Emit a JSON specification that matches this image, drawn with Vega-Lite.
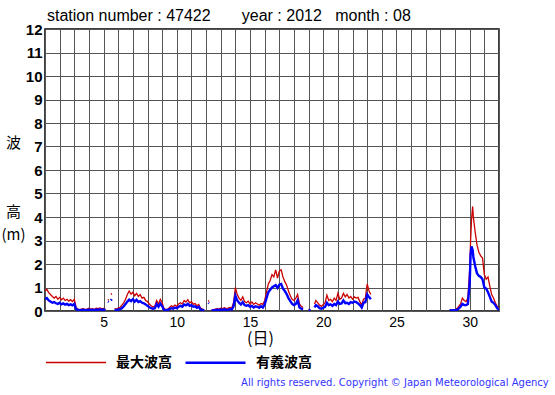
{
  "$schema": "https://vega.github.io/schema/vega-lite/v6.json",
  "autosize": "none",
  "width": 454,
  "height": 282,
  "padding": {"left": 45, "top": 29, "right": 56, "bottom": 84},
  "background": "white",
  "title": {
    "text": "station number : 47422\u00a0\u00a0\u00a0\u00a0\u00a0\u00a0\u00a0year : 2012\u00a0\u00a0\u00a0month : 08",
    "anchor": "start", "frame": "group", "font": "Liberation Sans", "fontSize": 16,
    "fontWeight": "normal", "color": "black", "offset": 2, "dx": 2, "dy": 17, "baseline": "alphabetic"
  },
  "config": {
    "view": {"stroke": "black", "strokeWidth": 1.5},
    "axis": {"gridColor": "#555555", "gridOpacity": 1, "gridWidth": 1, "domain": false, "ticks": false, "labelColor": "black", "titleColor": "black"}
  },
  "data": {"values": [
    {"d":1.0,"max":0.85,"sig":0.5},{"d":1.125,"max":0.92,"sig":0.55},{"d":1.25,"max":0.78,"sig":0.45},{"d":1.375,"max":0.7,"sig":0.4},
    {"d":1.5,"max":0.62,"sig":0.35},{"d":1.625,"max":0.55,"sig":0.38},{"d":1.75,"max":0.62,"sig":0.33},{"d":1.875,"max":0.5,"sig":0.3},
    {"d":2.0,"max":0.58,"sig":0.35},{"d":2.125,"max":0.48,"sig":0.28},{"d":2.25,"max":0.55,"sig":0.32},{"d":2.375,"max":0.45,"sig":0.27},
    {"d":2.5,"max":0.5,"sig":0.3},{"d":2.625,"max":0.42,"sig":0.25},{"d":2.75,"max":0.48,"sig":0.28},{"d":2.875,"max":0.4,"sig":0.24},
    {"d":3.0,"max":0.5,"sig":0.3},{"d":3.125,"max":0.15,"sig":0.08},{"d":3.25,"max":0.08,"sig":0.04},{"d":3.375,"max":0.06,"sig":0.03},
    {"d":3.5,"max":0.08,"sig":0.04},{"d":3.625,"max":0.1,"sig":0.05},{"d":3.75,"max":0.06,"sig":0.03},{"d":3.875,"max":0.08,"sig":0.04},
    {"d":4.0,"max":0.12,"sig":0.06},{"d":4.125,"max":0.08,"sig":0.04},{"d":4.25,"max":0.1,"sig":0.05},{"d":4.375,"max":0.07,"sig":0.03},
    {"d":4.5,"max":0.12,"sig":0.06},{"d":4.625,"max":0.1,"sig":0.05},{"d":4.75,"max":0.13,"sig":0.07},{"d":4.875,"max":0.09,"sig":0.05},
    {"d":5.0,"max":0.11,"sig":0.06},{"d":5.125,"max":0.07,"sig":0.03},{"d":5.25,"max":null,"sig":null},
    {"d":5.3,"max":0.5,"sig":0.4},{"d":5.35,"max":0.45,"sig":0.38},{"d":5.4,"max":null,"sig":null},
    {"d":5.5,"max":0.75,"sig":0.45},{"d":5.56,"max":0.7,"sig":0.5},{"d":5.62,"max":null,"sig":null},
    {"d":5.75,"max":0.1,"sig":0.05},{"d":5.875,"max":0.08,"sig":0.04},{"d":6.0,"max":0.12,"sig":0.06},{"d":6.125,"max":0.15,"sig":0.08},
    {"d":6.25,"max":0.25,"sig":0.12},{"d":6.375,"max":0.35,"sig":0.2},{"d":6.5,"max":0.5,"sig":0.3},{"d":6.625,"max":0.7,"sig":0.4},
    {"d":6.75,"max":0.85,"sig":0.48},{"d":6.875,"max":0.72,"sig":0.42},{"d":7.0,"max":0.8,"sig":0.5},{"d":7.125,"max":0.65,"sig":0.4},
    {"d":7.25,"max":0.75,"sig":0.48},{"d":7.375,"max":0.62,"sig":0.38},{"d":7.5,"max":0.7,"sig":0.42},{"d":7.625,"max":0.55,"sig":0.35},
    {"d":7.75,"max":0.58,"sig":0.33},{"d":7.875,"max":0.45,"sig":0.28},{"d":8.0,"max":0.4,"sig":0.22},{"d":8.125,"max":0.3,"sig":0.16},
    {"d":8.25,"max":0.22,"sig":0.12},{"d":8.375,"max":0.18,"sig":0.1},{"d":8.5,"max":0.2,"sig":0.12},{"d":8.625,"max":0.45,"sig":0.3},
    {"d":8.75,"max":0.3,"sig":0.18},{"d":8.875,"max":0.5,"sig":0.32},{"d":9.0,"max":0.35,"sig":0.2},{"d":9.125,"max":0.1,"sig":0.05},
    {"d":9.25,"max":0.06,"sig":0.03},{"d":9.375,"max":0.08,"sig":0.04},{"d":9.5,"max":0.15,"sig":0.08},{"d":9.625,"max":0.22,"sig":0.12},
    {"d":9.75,"max":0.18,"sig":0.1},{"d":9.875,"max":0.25,"sig":0.14},{"d":10.0,"max":0.2,"sig":0.12},{"d":10.125,"max":0.3,"sig":0.18},
    {"d":10.25,"max":0.35,"sig":0.22},{"d":10.375,"max":0.3,"sig":0.18},{"d":10.5,"max":0.45,"sig":0.28},{"d":10.625,"max":0.38,"sig":0.24},
    {"d":10.75,"max":0.48,"sig":0.3},{"d":10.875,"max":0.35,"sig":0.22},{"d":11.0,"max":0.4,"sig":0.25},{"d":11.125,"max":0.28,"sig":0.18},
    {"d":11.25,"max":0.32,"sig":0.2},{"d":11.375,"max":0.22,"sig":0.14},{"d":11.5,"max":0.28,"sig":0.18},{"d":11.625,"max":0.12,"sig":0.06},
    {"d":11.75,"max":0.08,"sig":0.04},{"d":11.875,"max":0.05,"sig":0.03},{"d":12.0,"max":null,"sig":null},
    {"d":12.15,"max":0.45,"sig":0.35},{"d":12.2,"max":0.4,"sig":0.32},{"d":12.25,"max":null,"sig":null},
    {"d":12.375,"max":0.06,"sig":0.03},{"d":12.5,"max":0.05,"sig":0.02},{"d":12.625,"max":0.08,"sig":0.04},{"d":12.75,"max":0.1,"sig":0.05},
    {"d":12.875,"max":0.08,"sig":0.04},{"d":13.0,"max":0.12,"sig":0.06},{"d":13.125,"max":0.1,"sig":0.05},{"d":13.25,"max":0.14,"sig":0.07},
    {"d":13.375,"max":0.1,"sig":0.05},{"d":13.5,"max":0.12,"sig":0.06},{"d":13.625,"max":0.15,"sig":0.08},{"d":13.75,"max":0.12,"sig":0.06},
    {"d":13.875,"max":0.35,"sig":0.2},{"d":14.0,"max":1.0,"sig":0.65},{"d":14.125,"max":0.7,"sig":0.45},{"d":14.25,"max":0.55,"sig":0.35},
    {"d":14.375,"max":0.45,"sig":0.28},{"d":14.5,"max":0.6,"sig":0.38},{"d":14.625,"max":0.4,"sig":0.25},{"d":14.75,"max":0.35,"sig":0.22},
    {"d":14.875,"max":0.42,"sig":0.25},{"d":15.0,"max":0.3,"sig":0.18},{"d":15.125,"max":0.38,"sig":0.22},{"d":15.25,"max":0.28,"sig":0.15},
    {"d":15.375,"max":0.35,"sig":0.2},{"d":15.5,"max":0.3,"sig":0.18},{"d":15.625,"max":0.25,"sig":0.14},{"d":15.75,"max":0.32,"sig":0.2},
    {"d":15.875,"max":0.28,"sig":0.15},{"d":16.0,"max":0.45,"sig":0.28},{"d":16.125,"max":0.8,"sig":0.55},{"d":16.25,"max":1.15,"sig":0.8},
    {"d":16.375,"max":1.3,"sig":0.9},{"d":16.5,"max":1.55,"sig":1.0},{"d":16.625,"max":1.45,"sig":1.05},{"d":16.75,"max":1.75,"sig":1.1},
    {"d":16.875,"max":1.4,"sig":0.98},{"d":17.0,"max":1.7,"sig":1.12},{"d":17.125,"max":1.75,"sig":1.15},{"d":17.25,"max":1.45,"sig":0.95},
    {"d":17.375,"max":1.25,"sig":0.85},{"d":17.5,"max":1.1,"sig":0.72},{"d":17.625,"max":0.85,"sig":0.55},{"d":17.75,"max":0.65,"sig":0.42},
    {"d":17.875,"max":0.5,"sig":0.3},{"d":18.0,"max":0.45,"sig":0.25},{"d":18.125,"max":0.55,"sig":0.3},{"d":18.25,"max":0.7,"sig":0.45},
    {"d":18.375,"max":0.3,"sig":0.15},{"d":18.5,"max":0.2,"sig":0.1},{"d":18.625,"max":0.15,"sig":0.08},{"d":18.75,"max":null,"sig":null},
    {"d":19.0,"max":0.08,"sig":0.04},{"d":19.125,"max":0.05,"sig":0.03},{"d":19.25,"max":null,"sig":null},
    {"d":19.4,"max":0.3,"sig":0.15},{"d":19.5,"max":0.45,"sig":0.25},{"d":19.625,"max":0.35,"sig":0.2},{"d":19.75,"max":0.25,"sig":0.12},
    {"d":19.875,"max":0.2,"sig":0.1},{"d":20.0,"max":0.28,"sig":0.14},{"d":20.125,"max":0.35,"sig":0.18},{"d":20.25,"max":0.68,"sig":0.35},
    {"d":20.375,"max":0.45,"sig":0.25},{"d":20.5,"max":0.5,"sig":0.28},{"d":20.625,"max":0.4,"sig":0.22},{"d":20.75,"max":0.55,"sig":0.3},
    {"d":20.875,"max":0.45,"sig":0.25},{"d":21.0,"max":0.75,"sig":0.4},{"d":21.125,"max":0.5,"sig":0.3},{"d":21.25,"max":0.55,"sig":0.32},
    {"d":21.375,"max":0.75,"sig":0.45},{"d":21.5,"max":0.6,"sig":0.33},{"d":21.625,"max":0.7,"sig":0.35},{"d":21.75,"max":0.55,"sig":0.3},
    {"d":21.875,"max":0.62,"sig":0.38},{"d":22.0,"max":0.5,"sig":0.35},{"d":22.125,"max":0.6,"sig":0.4},{"d":22.25,"max":0.55,"sig":0.38},
    {"d":22.375,"max":0.58,"sig":0.32},{"d":22.5,"max":0.4,"sig":0.25},{"d":22.625,"max":0.25,"sig":0.15},{"d":22.75,"max":0.5,"sig":0.35},
    {"d":22.875,"max":0.55,"sig":0.38},{"d":23.0,"max":1.15,"sig":0.7},{"d":23.125,"max":0.85,"sig":0.6},{"d":23.25,"max":0.7,"sig":0.5},
    {"d":23.375,"max":null,"sig":null},
    {"d":28.625,"max":0.05,"sig":0.03},{"d":28.75,"max":0.04,"sig":0.02},{"d":28.875,"max":0.06,"sig":0.03},{"d":29.0,"max":0.05,"sig":0.03},
    {"d":29.125,"max":0.1,"sig":0.05},{"d":29.25,"max":0.2,"sig":0.1},{"d":29.375,"max":0.3,"sig":0.18},{"d":29.5,"max":0.55,"sig":0.3},
    {"d":29.625,"max":0.45,"sig":0.25},{"d":29.75,"max":0.4,"sig":0.25},{"d":29.875,"max":0.55,"sig":0.3},{"d":30.0,"max":1.8,"sig":1.2},
    {"d":30.06,"max":3.0,"sig":2.4},{"d":30.125,"max":3.9,"sig":2.75},{"d":30.2,"max":4.45,"sig":2.6},{"d":30.25,"max":4.0,"sig":2.3},
    {"d":30.375,"max":3.35,"sig":1.9},{"d":30.5,"max":2.8,"sig":1.6},{"d":30.625,"max":2.5,"sig":1.5},{"d":30.75,"max":2.35,"sig":1.45},
    {"d":30.875,"max":2.25,"sig":1.35},{"d":31.0,"max":1.55,"sig":1.0},{"d":31.125,"max":1.35,"sig":0.95},{"d":31.25,"max":1.45,"sig":0.8},
    {"d":31.375,"max":1.05,"sig":0.6},{"d":31.5,"max":0.7,"sig":0.4},{"d":31.625,"max":0.55,"sig":0.35},{"d":31.75,"max":0.35,"sig":0.25},
    {"d":31.875,"max":0.2,"sig":0.12},{"d":32.0,"max":0.1,"sig":0.05}
  ]},
  "layer": [
    {
      "transform": [{"fold": ["max", "sig"], "as": ["s", "v"]}],
      "mark": {"type": "line", "invalid": "break-paths-filter-domains", "clip": true},
      "encoding": {
        "x": {"field": "d", "type": "quantitative", "scale": {"domain": [1, 32], "nice": false, "zero": false},
          "axis": {"values": [1,2,3,4,5,6,7,8,9,10,11,12,13,14,15,16,17,18,19,20,21,22,23,24,25,26,27,28,29,30,31,32],
            "labelExpr": "datum.value % 5 == 0 ? datum.value : ''", "labelFont": "Liberation Sans", "labelFontSize": 14,
            "labelPadding": 4, "labelFlush": false, "labelOverlap": false,
            "title": "(日)", "titleFont": "Noto Sans CJK JP", "titleFontSize": 16, "titleFontWeight": "normal",
            "titleX": 215, "titleY": 27, "titleBaseline": "middle", "titleAlign": "center"}},
        "y": {"field": "v", "type": "quantitative", "scale": {"domain": [0, 12], "nice": false},
          "axis": {"values": [0,1,2,3,4,5,6,7,8,9,10,11,12], "labelFont": "Liberation Sans", "labelFontSize": 15, "labelFontWeight": "bold",
            "labelPadding": 3, "labelFlush": false, "labelOverlap": false,
            "title": ["波", "\u200b", "\u200b", "高", "(m)"], "titleFont": "Noto Sans CJK JP", "titleFontSize": 15, "titleFontWeight": "normal",
            "titleAngle": 0, "titleLineHeight": 23, "titleX": -32, "titleY": 106, "titleAlign": "center", "titleBaseline": "top"}},
        "color": {"field": "s", "type": "nominal",
          "scale": {"domain": ["max", "sig"], "range": ["#cc0000", "#0000ff"]},
          "legend": {"orient": "none", "legendX": 0, "legendY": 302, "direction": "horizontal", "title": null,
            "labelExpr": "datum.label == 'max' ? '最大波高' : '有義波高'",
            "symbolType": "stroke", "symbolSize": 3600, "symbolStrokeWidth": 4, "labelFont": "Noto Sans CJK JP",
            "labelFontSize": 14, "labelFontWeight": "bold", "labelColor": "black", "labelOffset": 9, "columnPadding": 8}},
        "strokeWidth": {"field": "s", "type": "nominal", "scale": {"domain": ["max", "sig"], "range": [1.3, 2.4]}, "legend": null}
      }
    },
    {
      "data": {"values": [{}]},
      "mark": {"type": "text", "text": "All rights reserved. Copyright © Japan Meteorological Agency", "align": "right",
        "baseline": "alphabetic", "font": "DejaVu Sans", "fontSize": 10, "color": "#3333ff"},
      "encoding": {
        "x": {"datum": 35.4, "type": "quantitative",
          "axis": {"values": [1,2,3,4,5,6,7,8,9,10,11,12,13,14,15,16,17,18,19,20,21,22,23,24,25,26,27,28,29,30,31,32],
            "labelExpr": "datum.value % 5 == 0 ? datum.value : ''", "labelFont": "Liberation Sans", "labelFontSize": 14,
            "labelPadding": 4, "labelFlush": false, "labelOverlap": false,
            "title": "(日)", "titleFont": "Noto Sans CJK JP", "titleFontSize": 16, "titleFontWeight": "normal",
            "titleX": 215, "titleY": 27, "titleBaseline": "middle", "titleAlign": "center"}},
        "y": {"datum": -3.2, "type": "quantitative",
          "axis": {"values": [0,1,2,3,4,5,6,7,8,9,10,11,12], "labelFont": "Liberation Sans", "labelFontSize": 15, "labelFontWeight": "bold",
            "labelPadding": 3, "labelFlush": false, "labelOverlap": false,
            "title": ["波", "\u200b", "\u200b", "高", "(m)"], "titleFont": "Noto Sans CJK JP", "titleFontSize": 15, "titleFontWeight": "normal",
            "titleAngle": 0, "titleLineHeight": 23, "titleX": -32, "titleY": 106, "titleAlign": "center", "titleBaseline": "top"}}
      }
    }
  ]
}
